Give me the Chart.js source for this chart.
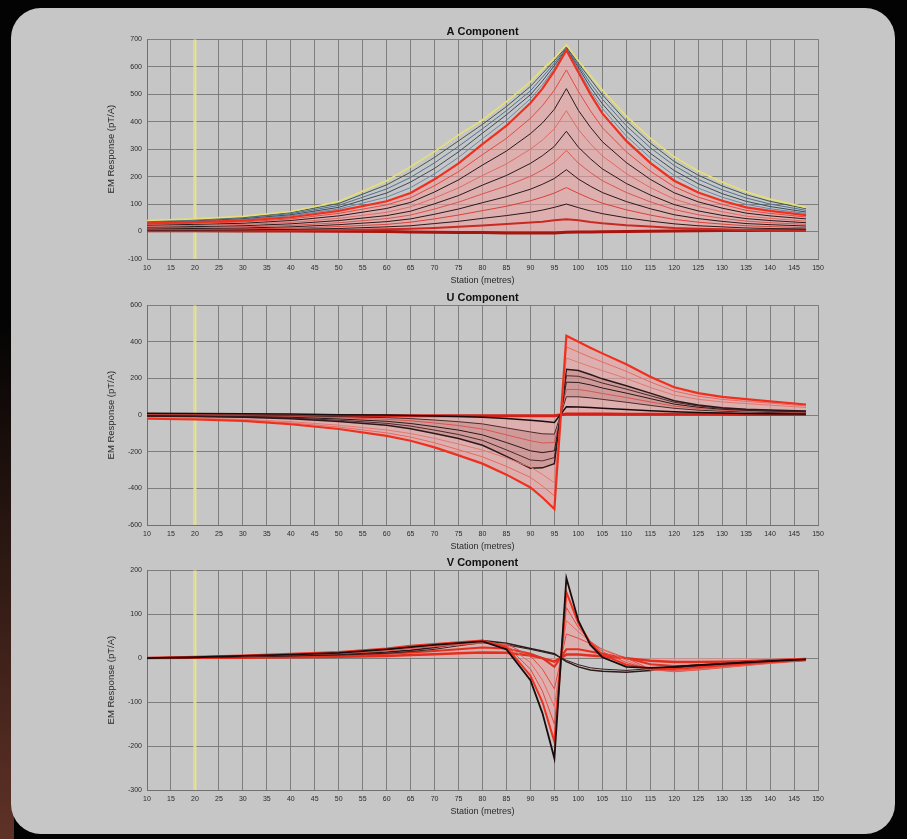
<!DOCTYPE html>
<html>
<head>
<meta charset="utf-8">
<title>EM Response components</title>
<script src="https://cdn.jsdelivr.net/npm/chart.js@4.4.1/dist/chart.umd.min.js"></script>
<style>
  html, body { margin: 0; padding: 0; }
  body { width: 907px; height: 839px; background: #030303; position: relative; overflow: hidden; }
  #glow { position: absolute; left: 0; top: 320px; width: 14px; height: 519px;
          background: linear-gradient(to bottom, rgba(0,0,0,0), rgba(105,55,42,0.9)); }
  #panel { position: absolute; left: 11px; top: 8px; width: 884px; height: 826px;
           background: #c6c6c6; border-radius: 30px; }
  .box { position: absolute; left: 95px; width: 745px; height: 268px; }
</style>
</head>
<body>
<div id="glow"></div>
<div id="panel"></div>
<div class="box" style="top:21px"><canvas id="chartA" width="745" height="268"></canvas></div>
<div class="box" style="top:287px"><canvas id="chartU" width="745" height="268"></canvas></div>
<div class="box" style="top:552px"><canvas id="chartV" width="745" height="268"></canvas></div>
<script>
const stations = [10, 20, 30, 40, 50, 60, 65, 70, 75, 80, 85, 90, 92.5, 95, 97.5, 100, 102.5, 105, 110, 115, 120, 125, 130, 135, 140, 147.5];
const markerStation = 20;

// A component
const aYellow = [40, 46, 55, 73, 109, 185, 236, 291, 352, 406, 473, 545, 590, 631, 680, 622, 568, 515, 420, 340, 272, 220, 180, 145, 118, 88];
const aDark1 = [38, 44, 52, 69, 102, 170, 216, 270, 330, 390, 455, 528, 575, 622, 672, 612, 555, 498, 402, 322, 255, 205, 166, 134, 110, 83];
const aDark2 = [36, 42, 50, 65, 95, 155, 197, 250, 310, 374, 440, 512, 562, 613, 668, 605, 540, 482, 385, 305, 240, 190, 152, 122, 100, 77];
const aDark3 = [34, 39, 47, 61, 88, 140, 180, 230, 290, 358, 425, 498, 548, 604, 665, 598, 526, 465, 366, 285, 222, 174, 138, 110, 91, 71];
const aDark4 = [32, 37, 44, 57, 82, 125, 160, 210, 270, 338, 405, 483, 534, 594, 662, 590, 512, 448, 348, 268, 204, 158, 125, 99, 83, 66];
const aRed = [30, 34, 40, 52, 75, 110, 140, 190, 248, 318, 385, 468, 520, 585, 660, 580, 500, 430, 330, 250, 185, 142, 112, 88, 75, 60];
const aLow1 = [27, 30, 35, 46, 66, 97, 123, 167, 218, 280, 339, 412, 458, 515, 588, 510, 440, 378, 290, 220, 163, 125, 99, 77, 66, 53];
const aLow2 = [23, 26, 30, 40, 57, 84, 106, 144, 188, 242, 293, 356, 395, 445, 520, 441, 380, 327, 251, 190, 141, 108, 85, 67, 57, 46];
const aLow3 = [19, 22, 26, 33, 48, 70, 90, 122, 159, 204, 246, 300, 333, 374, 440, 371, 320, 275, 211, 160, 118, 91, 72, 56, 48, 38];
const aLow4 = [16, 18, 21, 28, 40, 58, 74, 101, 131, 169, 204, 248, 276, 310, 365, 307, 265, 228, 175, 133, 98, 75, 59, 47, 40, 32];
const aLow5 = [13, 15, 17, 22, 32, 47, 60, 82, 107, 137, 166, 201, 224, 252, 295, 249, 215, 185, 142, 108, 80, 61, 48, 38, 32, 26];
const aLow6 = [10, 11, 13, 17, 25, 36, 46, 63, 82, 105, 127, 154, 172, 193, 225, 191, 165, 142, 109, 83, 61, 47, 37, 29, 25, 20];
const aLow7 = [7, 8, 10, 12, 18, 26, 34, 46, 60, 76, 92, 112, 125, 140, 160, 139, 120, 103, 79, 60, 44, 34, 27, 21, 18, 14];
const aLow8 = [5, 5, 6, 8, 11, 17, 21, 29, 37, 48, 58, 70, 78, 88, 100, 87, 75, 65, 50, 38, 28, 21, 17, 13, 11, 9];
const aLow9 = [2, 2, 3, 4, 5, 8, 10, 13, 17, 22, 27, 33, 36, 41, 45, 41, 35, 30, 23, 18, 13, 10, 8, 6, 5, 4];
const aBase = [3, 3, 2, 2, 1, 0, -2, -3, -4, -4, -5, -5, -5, -5, -3, -2, -2, -1, 0, 1, 2, 3, 4, 4, 5, 5];

// U component
const uEnv = [-20, -24, -32, -50, -76, -113, -140, -176, -220, -265, -325, -395, -450, -513, 433, 400, 368, 337, 278, 210, 152, 120, 100, 87, 75, 58];
const uRed1 = [-17, -21, -28, -43, -65, -97, -120, -151, -189, -228, -280, -340, -387, -441, 372, 344, 316, 290, 239, 181, 131, 103, 86, 75, 65, 50];
const uRed2 = [-14, -17, -23, -36, -55, -81, -101, -127, -158, -191, -234, -284, -324, -369, 312, 288, 265, 243, 200, 151, 109, 86, 72, 63, 54, 42];
const uBlk1 = [-5, -8, -12, -20, -35, -55, -75, -100, -128, -165, -225, -290, -288, -265, 250, 243, 222, 198, 160, 120, 78, 55, 40, 32, 28, 22];
const uBlk2 = [-4, -6, -10, -16, -28, -45, -60, -82, -106, -138, -190, -245, -250, -232, 215, 212, 195, 175, 142, 106, 70, 50, 37, 29, 25, 20];
const uBlk3 = [-3, -5, -8, -12, -21, -34, -46, -63, -82, -108, -150, -195, -205, -195, 180, 178, 165, 148, 120, 90, 60, 43, 32, 26, 22, 18];
const uRed3 = [-2, -3, -5, -8, -14, -23, -31, -43, -57, -76, -108, -140, -152, -150, 140, 140, 130, 118, 96, 72, 49, 36, 27, 22, 19, 15];
const uBlk4 = [-1, -2, -3, -5, -9, -14, -19, -27, -36, -48, -70, -92, -102, -104, 100, 100, 94, 86, 70, 53, 37, 27, 21, 17, 14, 12];
const uBlkPos = [10, 9, 8, 6, 2, 0, -2, -5, -8, -12, -18, -28, -34, -40, 45, 44, 42, 38, 31, 24, 18, 14, 11, 9, 8, 6];
const uZero = [-3, -3, -3, -3, -3, -3, -3, -3, -3, -3, -3, -3, -3, -3, 6, 6, 6, 6, 5, 5, 4, 4, 4, 3, 3, 3];

// V component
const vBlackOuter = [0, 2, 5, 8, 12, 20, 25, 30, 34, 38, 20, -50, -125, -228, 182, 85, 30, 2, -20, -22, -20, -16, -13, -10, -7, -3];
const vRed1 = [0, 3, 6, 10, 14, 22, 28, 32, 36, 40, 25, -40, -100, -190, 150, 80, 35, 8, -15, -24, -25, -21, -17, -13, -9, -4];
const vRed2 = [0, 3, 6, 9, 13, 20, 26, 30, 34, 38, 28, -25, -75, -150, 115, 70, 38, 15, -10, -26, -28, -24, -19, -15, -10, -5];
const vRed3 = [0, 2, 5, 8, 12, 18, 24, 28, 32, 36, 30, -10, -50, -110, 85, 60, 38, 20, -5, -27, -30, -26, -21, -16, -11, -5];
const vRed4 = [0, 2, 4, 7, 10, 16, 22, 26, 30, 34, 32, 5, -25, -70, 55, 45, 33, 20, 0, -25, -31, -27, -22, -17, -12, -6];
const vBlackHump = [0, 2, 4, 6, 9, 14, 18, 24, 33, 40, 34, 22, 16, 10, -8, -20, -27, -30, -32, -28, -22, -18, -14, -10, -7, -3];
const vBlack2 = [0, 1, 3, 5, 7, 11, 15, 20, 28, 35, 30, 20, 14, 8, -5, -15, -22, -25, -28, -24, -19, -15, -12, -9, -6, -3];
const vRed5 = [0, 1, 2, 4, 6, 10, 13, 16, 20, 24, 22, 10, 0, -20, 20, 20, 15, 10, 0, -14, -18, -17, -15, -12, -9, -4];
const vRed6 = [0, 1, 1, 2, 3, 5, 7, 9, 11, 13, 12, 6, 0, -8, 8, 8, 6, 4, 0, -6, -9, -9, -8, -7, -5, -2];

const fontFamily = '"Liberation Sans", Arial, sans-serif';
const textColor = '#2a2a2a';
const gridColor = '#7d7d7d';
const pinkFill = 'rgba(236,160,160,0.6)';
const darkFill = 'rgba(95,55,50,0.35)';
const RED = '#f0301f';
const BLACK = '#2c1818';

// first entry is drawn on top; "to" is the fill target (dataset index or 'origin')
const aSeries = [
    { values: aRed, color: RED, width: 2.2, fill: pinkFill, to: 'origin' },
    { values: aYellow, color: '#e6df78', width: 1.6 },
    { values: aDark1, color: '#3f5a4c' },
    { values: aDark2, color: '#4f6f92' },
    { values: aDark3, color: '#3c4b5a' },
    { values: aDark4, color: '#6a86a8' },
    { values: aLow1, color: '#e04a42' },
    { values: aLow2, color: BLACK },
    { values: aLow3, color: '#e06a66' },
    { values: aLow4, color: BLACK },
    { values: aLow5, color: '#d85550' },
    { values: aLow6, color: BLACK },
    { values: aLow7, color: '#d84038' },
    { values: aLow8, color: BLACK },
    { values: aLow9, color: '#c82a22', width: 2 },
    { values: aBase, color: '#a8140e', width: 3 }
];

const uSeries = [
    { values: uEnv, color: RED, width: 2.2, fill: pinkFill, to: 'origin' },
    { values: uRed1, color: '#e86a60' },
    { values: uRed2, color: '#e07a72' },
    { values: uBlk1, color: BLACK, width: 1.5, fill: darkFill, to: 7 },
    { values: uBlk2, color: '#4a2a2a' },
    { values: uBlk3, color: BLACK },
    { values: uRed3, color: '#d85550' },
    { values: uBlk4, color: '#4a2a2a' },
    { values: uBlkPos, color: '#1a0c0c', width: 1.5 },
    { values: uZero, color: '#d42018', width: 3 }
];

const vSeries = [
    { values: vBlackOuter, color: '#1a0c0c', width: 1.8 },
    { values: vRed1, color: RED, width: 2, fill: pinkFill, to: 'origin' },
    { values: vRed2, color: '#e24a40' },
    { values: vRed3, color: '#e86a60' },
    { values: vRed4, color: '#e24a40' },
    { values: vBlackHump, color: BLACK, width: 1.5 },
    { values: vBlack2, color: '#3a1c1c' },
    { values: vRed5, color: '#e03020', width: 2 },
    { values: vRed6, color: '#e03020', width: 2.5 }
];

function buildDatasets(series, yMin, yMax) {
    const datasets = series.map(s => ({
        data: stations.map((x, i) => ({ x: x, y: s.values[i] })),
        borderColor: s.color,
        borderWidth: s.width || 1,
        backgroundColor: s.fill || 'transparent',
        fill: s.fill ? s.to : false,
        pointRadius: 0,
        tension: 0
    }));
    // pale yellow marker line at the reference station
    datasets.push({
        data: [{ x: markerStation, y: yMin }, { x: markerStation, y: yMax }],
        borderColor: 'rgba(232,228,150,0.9)',
        borderWidth: 3,
        pointRadius: 0,
        fill: false
    });
    return datasets;
}

function drawChart(id, title, yMin, yMax, yStep, series) {
    new Chart(document.getElementById(id), {
        type: 'line',
        data: { datasets: buildDatasets(series, yMin, yMax) },
        options: {
            responsive: false,
            animation: false,
            devicePixelRatio: 1,
            layout: { padding: { top: 4, right: 22, bottom: 0, left: 0 } },
            plugins: {
                legend: { display: false },
                tooltip: { enabled: false },
                filler: { drawTime: 'beforeDatasetsDraw' },
                title: {
                    display: true,
                    text: title,
                    fullSize: false,
                    color: '#111',
                    font: { family: fontFamily, size: 11, weight: 'bold' },
                    padding: { top: 0, bottom: 1 }
                }
            },
            scales: {
                x: {
                    type: 'linear',
                    min: 10,
                    max: 150,
                    afterFit: scale => { scale.height = 30; },
                    ticks: { stepSize: 5, autoSkip: false, maxRotation: 0, padding: 5, color: textColor,
                             font: { family: fontFamily, size: 7 } },
                    grid: { color: gridColor, drawTicks: false },
                    border: { color: '#707070' },
                    title: { display: true, text: 'Station (metres)', color: textColor,
                             font: { family: fontFamily, size: 9 }, padding: { top: 0, bottom: 2.6 } }
                },
                y: {
                    min: yMin,
                    max: yMax,
                    afterFit: scale => { scale.width = 52; },
                    ticks: { stepSize: yStep, padding: 5, color: textColor, font: { family: fontFamily, size: 7 } },
                    grid: { color: gridColor, drawTicks: false },
                    border: { color: '#707070' },
                    title: { display: true, text: 'EM Response (pT/A)', color: textColor,
                             font: { family: fontFamily, size: 9.5 }, padding: { top: 11, bottom: 0 } }
                }
            }
        }
    });
}

drawChart('chartA', 'A Component', -100, 700, 100, aSeries);
drawChart('chartU', 'U Component', -600, 600, 200, uSeries);
drawChart('chartV', 'V Component', -300, 200, 100, vSeries);
</script>
</body>
</html>
